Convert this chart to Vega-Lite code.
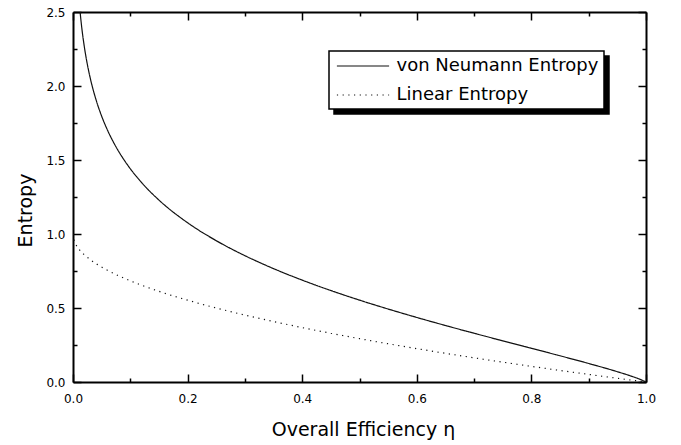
{
  "$schema": "https://vega.github.io/schema/vega-lite/v6.json",
  "width": 573,
  "height": 370,
  "autosize": {"type": "none"},
  "padding": {"left": 73, "top": 12, "right": 35, "bottom": 63},
  "background": "white",
  "config": {
    "view": {"stroke": null},
    "axis": {
      "grid": false,
      "domainColor": "black",
      "domainWidth": 2,
      "tickColor": "black",
      "tickWidth": 1.5,
      "labelFont": "DejaVu Sans",
      "labelFontSize": 12,
      "labelColor": "black",
      "titleFont": "DejaVu Sans",
      "titleFontSize": 19,
      "titleFontWeight": "normal",
      "titleColor": "black",
      "labelFlush": false,
      "labelOverlap": false,
      "labelBound": false
    },
    "legend": {
      "labelFont": "DejaVu Sans",
      "labelFontSize": 18,
      "labelColor": "black",
      "labelLimit": 400,
      "symbolSize": 324,
      "symbolType": "M-2.9,0L2.9,0",
      "symbolStrokeWidth": 1.2,
      "padding": 5,
      "rowPadding": 10,
      "symbolOffset": 19,
      "labelOffset": 23.5,
      "orient": "none",
      "title": null,
      "strokeWidth": 1.5
    }
  },
  "data": {
    "values": [
      {"series": "von Neumann Entropy", "eta": 0.01, "entropy": 2.6078},
      {"series": "von Neumann Entropy", "eta": 0.012, "entropy": 2.5167},
      {"series": "von Neumann Entropy", "eta": 0.015, "entropy": 2.404},
      {"series": "von Neumann Entropy", "eta": 0.02, "entropy": 2.2596},
      {"series": "von Neumann Entropy", "eta": 0.025, "entropy": 2.147},
      {"series": "von Neumann Entropy", "eta": 0.03, "entropy": 2.0551},
      {"series": "von Neumann Entropy", "eta": 0.04, "entropy": 1.9095},
      {"series": "von Neumann Entropy", "eta": 0.05, "entropy": 1.7962},
      {"series": "von Neumann Entropy", "eta": 0.06, "entropy": 1.7034},
      {"series": "von Neumann Entropy", "eta": 0.07, "entropy": 1.6246},
      {"series": "von Neumann Entropy", "eta": 0.08, "entropy": 1.556},
      {"series": "von Neumann Entropy", "eta": 0.09, "entropy": 1.4954},
      {"series": "von Neumann Entropy", "eta": 0.1, "entropy": 1.4409},
      {"series": "von Neumann Entropy", "eta": 0.12, "entropy": 1.3462},
      {"series": "von Neumann Entropy", "eta": 0.15, "entropy": 1.2292},
      {"series": "von Neumann Entropy", "eta": 0.2, "entropy": 1.076},
      {"series": "von Neumann Entropy", "eta": 0.25, "entropy": 0.9548},
      {"series": "von Neumann Entropy", "eta": 0.3, "entropy": 0.8536},
      {"series": "von Neumann Entropy", "eta": 0.35, "entropy": 0.766},
      {"series": "von Neumann Entropy", "eta": 0.4, "entropy": 0.6883},
      {"series": "von Neumann Entropy", "eta": 0.45, "entropy": 0.618},
      {"series": "von Neumann Entropy", "eta": 0.5, "entropy": 0.5533},
      {"series": "von Neumann Entropy", "eta": 0.55, "entropy": 0.493},
      {"series": "von Neumann Entropy", "eta": 0.6, "entropy": 0.4361},
      {"series": "von Neumann Entropy", "eta": 0.65, "entropy": 0.3817},
      {"series": "von Neumann Entropy", "eta": 0.7, "entropy": 0.3294},
      {"series": "von Neumann Entropy", "eta": 0.75, "entropy": 0.2782},
      {"series": "von Neumann Entropy", "eta": 0.8, "entropy": 0.2277},
      {"series": "von Neumann Entropy", "eta": 0.85, "entropy": 0.1771},
      {"series": "von Neumann Entropy", "eta": 0.9, "entropy": 0.1251},
      {"series": "von Neumann Entropy", "eta": 0.95, "entropy": 0.0695},
      {"series": "von Neumann Entropy", "eta": 0.98, "entropy": 0.0319},
      {"series": "von Neumann Entropy", "eta": 0.99, "entropy": 0.0176},
      {"series": "von Neumann Entropy", "eta": 1.0, "entropy": 0},
      {"series": "Linear Entropy", "eta": 0, "entropy": 1},
      {"series": "Linear Entropy", "eta": 0.002, "entropy": 0.9553},
      {"series": "Linear Entropy", "eta": 0.005, "entropy": 0.9293},
      {"series": "Linear Entropy", "eta": 0.01, "entropy": 0.9},
      {"series": "Linear Entropy", "eta": 0.02, "entropy": 0.8586},
      {"series": "Linear Entropy", "eta": 0.03, "entropy": 0.8268},
      {"series": "Linear Entropy", "eta": 0.04, "entropy": 0.8},
      {"series": "Linear Entropy", "eta": 0.05, "entropy": 0.7764},
      {"series": "Linear Entropy", "eta": 0.06, "entropy": 0.7551},
      {"series": "Linear Entropy", "eta": 0.08, "entropy": 0.7172},
      {"series": "Linear Entropy", "eta": 0.1, "entropy": 0.6838},
      {"series": "Linear Entropy", "eta": 0.12, "entropy": 0.6536},
      {"series": "Linear Entropy", "eta": 0.15, "entropy": 0.6127},
      {"series": "Linear Entropy", "eta": 0.2, "entropy": 0.5528},
      {"series": "Linear Entropy", "eta": 0.25, "entropy": 0.5},
      {"series": "Linear Entropy", "eta": 0.3, "entropy": 0.4523},
      {"series": "Linear Entropy", "eta": 0.35, "entropy": 0.4084},
      {"series": "Linear Entropy", "eta": 0.4, "entropy": 0.3675},
      {"series": "Linear Entropy", "eta": 0.45, "entropy": 0.3292},
      {"series": "Linear Entropy", "eta": 0.5, "entropy": 0.2929},
      {"series": "Linear Entropy", "eta": 0.55, "entropy": 0.2584},
      {"series": "Linear Entropy", "eta": 0.6, "entropy": 0.2254},
      {"series": "Linear Entropy", "eta": 0.65, "entropy": 0.1938},
      {"series": "Linear Entropy", "eta": 0.7, "entropy": 0.1633},
      {"series": "Linear Entropy", "eta": 0.75, "entropy": 0.134},
      {"series": "Linear Entropy", "eta": 0.8, "entropy": 0.1056},
      {"series": "Linear Entropy", "eta": 0.85, "entropy": 0.078},
      {"series": "Linear Entropy", "eta": 0.9, "entropy": 0.0513},
      {"series": "Linear Entropy", "eta": 0.95, "entropy": 0.0253},
      {"series": "Linear Entropy", "eta": 0.98, "entropy": 0.0101},
      {"series": "Linear Entropy", "eta": 1.0, "entropy": 0}
    ]
  },
  "layer": [
    {
      "mark": {"type": "line", "clip": true, "strokeWidth": 1.2, "interpolate": "monotone"},
      "encoding": {
        "x": {
          "field": "eta",
          "type": "quantitative",
          "scale": {"domain": [0, 1], "nice": false, "zero": false},
          "axis": {
            "orient": "bottom",
            "values": [0, 0.2, 0.4, 0.6, 0.8, 1.0],
            "format": ".1f",
            "tickSize": -8,
            "labelPadding": 19,
            "title": "Overall Efficiency η",
            "titleX": 290,
            "titleY": 53,
            "titleAlign": "center",
            "titleBaseline": "alphabetic"
          }
        },
        "y": {
          "field": "entropy",
          "type": "quantitative",
          "scale": {"domain": [0, 2.5], "nice": false},
          "axis": {
            "orient": "left",
            "values": [0, 0.5, 1.0, 1.5, 2.0, 2.5],
            "format": ".1f",
            "tickSize": -8,
            "labelPadding": 16,
            "title": "Entropy",
            "titleX": -42,
            "titleY": 198,
            "titleAngle": -90,
            "titleAlign": "center",
            "titleBaseline": "alphabetic"
          }
        },
        "color": {
          "field": "series",
          "type": "nominal",
          "scale": {"domain": ["von Neumann Entropy", "Linear Entropy"], "range": ["#111111", "#111111"]},
          "legend": {"legendX": 256, "legendY": 39, "fillColor": "white", "strokeColor": "black", "zindex": 2}
        },
        "strokeDash": {
          "field": "series",
          "type": "nominal",
          "scale": {"domain": ["von Neumann Entropy", "Linear Entropy"], "range": [[1, 0], [1.2, 4.5]]},
          "legend": {"legendX": 256, "legendY": 39, "fillColor": "white", "strokeColor": "black", "zindex": 2}
        }
      }
    },
    {
      "mark": {"type": "text", "text": ""},
      "encoding": {
        "x": {
          "field": "eta",
          "type": "quantitative",
          "axis": {"orient": "top", "values": [0, 0.2, 0.4, 0.6, 0.8, 1.0], "tickSize": -8, "labels": false, "title": null}
        },
        "y": {
          "field": "entropy",
          "type": "quantitative",
          "axis": {"orient": "right", "values": [0, 0.5, 1.0, 1.5, 2.0, 2.5], "tickSize": -8, "labels": false, "title": null}
        },
        "opacity": {
          "field": "series",
          "type": "nominal",
          "scale": {"range": [1, 1]},
          "legend": {"legendX": 261, "legendY": 44, "fillColor": "black", "strokeColor": "black", "labelColor": "black", "symbolStrokeColor": "black", "symbolFillColor": "black", "zindex": 1}
        }
      }
    },
    {
      "mark": {"type": "text", "text": ""},
      "encoding": {
        "x": {
          "field": "eta",
          "type": "quantitative",
          "axis": {"orient": "bottom", "values": [0.1, 0.3, 0.5, 0.7, 0.9], "tickSize": -4, "labels": false, "domain": false, "title": null}
        },
        "y": {
          "field": "entropy",
          "type": "quantitative",
          "axis": {"orient": "left", "values": [0.25, 0.75, 1.25, 1.75, 2.25], "tickSize": -4, "labels": false, "domain": false, "title": null}
        }
      }
    },
    {
      "mark": {"type": "text", "text": ""},
      "encoding": {
        "x": {
          "field": "eta",
          "type": "quantitative",
          "axis": {"orient": "top", "values": [0.1, 0.3, 0.5, 0.7, 0.9], "tickSize": -4, "labels": false, "domain": false, "title": null}
        },
        "y": {
          "field": "entropy",
          "type": "quantitative",
          "axis": {"orient": "right", "values": [0.25, 0.75, 1.25, 1.75, 2.25], "tickSize": -4, "labels": false, "domain": false, "title": null}
        }
      }
    }
  ],
  "resolve": {"axis": {"x": "independent", "y": "independent"}}
}
